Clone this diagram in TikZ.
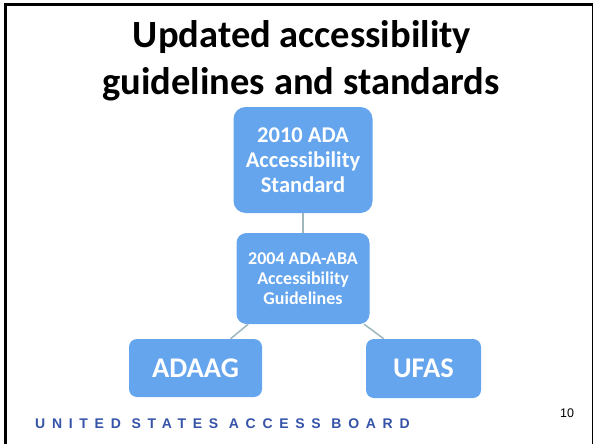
\documentclass[tikz,border=0pt]{standalone}
\usepackage{fontspec}
\setmainfont{Carlito}
\newfontfamily\boardfont[LetterSpace=48]{Liberation Sans}
\newfontfamily\pagefont{Liberation Sans}
\definecolor{boxblue}{HTML}{64A5EE}
\definecolor{linkgray}{HTML}{9DB7BD}
\definecolor{boardblue}{HTML}{3553A8}

\begin{document}
\begin{tikzpicture}[x=1pt,y=-1pt,
    box/.style={fill=boxblue,text=white,rounded corners=10pt,align=center,inner sep=0pt},
    link/.style={draw=linkgray,line width=1.5pt}]
  \useasboundingbox (0,0) rectangle (594,444);
  % frame
  \draw[line width=2.5pt] (5.5,444) -- (5.5,4.5) -- (593,4.5);
  \draw[line width=1.2pt] (592.5,4.5) -- (592.5,444);
  % title
  \node[anchor=base,font=\bfseries\fontsize{38.5}{46}\selectfont] (title1) at (302,48) {Updated accessibility};
  \node[anchor=base,font=\bfseries\fontsize{38.5}{46}\selectfont] (title2) at (301,94) {guidelines and standards};
  % boxes
  \node[box,minimum width=139pt,minimum height=106pt,rounded corners=12pt,
        font=\bfseries\fontsize{22.5}{25}\selectfont] (std2010) at (303,160) {2010 ADA\\Accessibility\\Standard};
  \node[box,minimum width=133pt,minimum height=91pt,
        font=\bfseries\fontsize{18}{20}\selectfont] (guide2004) at (303,278.5) {2004 ADA-ABA\\Accessibility\\Guidelines};
  \node[box,minimum width=133pt,minimum height=58pt,rounded corners=8pt,
        font=\bfseries\fontsize{28.5}{32}\selectfont] (adaag) at (195.5,368) {ADAAG};
  \node[box,minimum width=115pt,minimum height=59pt,rounded corners=8pt,
        font=\bfseries\fontsize{28.5}{32}\selectfont] (ufas) at (423.5,368.5) {UFAS};
  % links
  \draw[link] (std2010) -- (guide2004);
  \draw[link] (guide2004) -- (adaag);
  \draw[link] (guide2004) -- (ufas);
  % footer
  \node[anchor=base west,inner sep=0pt,text=boardblue,
        font=\boardfont\bfseries\fontsize{14}{16}\selectfont] (board) at (35,428) {UNITED STATES ACCESS BOARD};
  \node[font=\pagefont\fontsize{12.5}{15}\selectfont] (pagenum) at (567,413) {10};
\end{tikzpicture}
\end{document}
